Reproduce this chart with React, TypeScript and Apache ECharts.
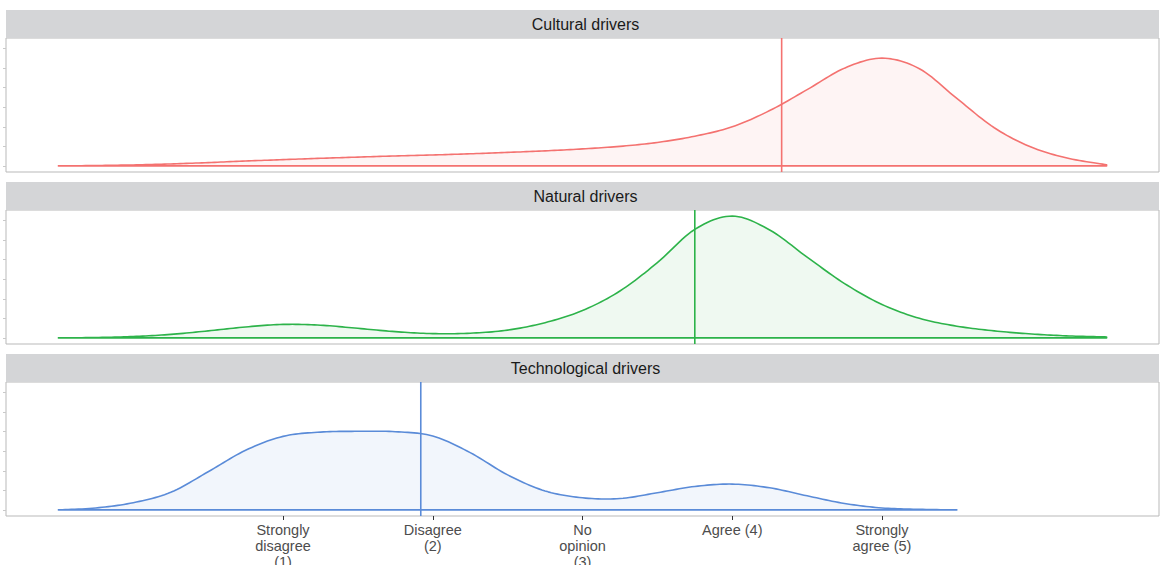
import React, { useEffect, useRef } from "react";
import * as echarts from "echarts";

const PANEL_TITLES = ["Cultural drivers", "Natural drivers", "Technological drivers"];

const X_FULL = [
  -0.5, -0.25, 0, 0.25, 0.5, 0.75, 1, 1.25, 1.5, 1.75, 2, 2.25, 2.5, 2.75, 3,
  3.25, 3.5, 3.75, 4, 4.25, 4.5, 4.75, 5, 5.25, 5.5, 5.75, 6, 6.25, 6.5,
];
const X_TECH = [
  -0.5, -0.25, 0, 0.25, 0.5, 0.75, 1, 1.25, 1.5, 1.75, 2, 2.25, 2.5, 2.75, 3,
  3.25, 3.5, 3.75, 4, 4.25, 4.5, 4.75, 5, 5.25, 5.5,
];

const CULTURAL = [
  0.0, 0.002, 0.005, 0.01, 0.017, 0.025, 0.032, 0.039, 0.045, 0.051, 0.056,
  0.062, 0.069, 0.077, 0.087, 0.1, 0.12, 0.152, 0.2, 0.283, 0.39, 0.5,
  0.551, 0.497, 0.345, 0.195, 0.095, 0.038, 0.006,
];
const NATURAL = [
  0.0, 0.002, 0.007, 0.018, 0.036, 0.056, 0.069, 0.065, 0.049, 0.032, 0.022,
  0.024, 0.04, 0.078, 0.14, 0.24, 0.385, 0.555, 0.623, 0.552, 0.413, 0.278,
  0.171, 0.1, 0.06, 0.036, 0.02, 0.01, 0.005,
];
const TECHNOLOGICAL = [
  0.0, 0.01, 0.037, 0.09, 0.195, 0.305, 0.376, 0.398, 0.402, 0.4, 0.378,
  0.293, 0.179, 0.097, 0.062, 0.058, 0.088, 0.12, 0.132, 0.113, 0.072, 0.033,
  0.01, 0.003, 0.0,
];

const MEANS = [4.33, 3.75, 1.92];
const COLORS = ["#F47270", "#2DB34A", "#5A8BD8"];
const FILLS = [
  "rgba(244,114,112,0.08)",
  "rgba(45,179,74,0.08)",
  "rgba(90,139,216,0.08)",
];

const TICK_VALUES = [1, 2, 3, 4, 5];
const TICK_LABELS = [
  "Strongly\ndisagree\n(1)",
  "Disagree\n(2)",
  "No\nopinion\n(3)",
  "Agree (4)",
  "Strongly\nagree (5)",
];
const Y_TICKS = [0, 0.1, 0.2, 0.3, 0.4, 0.5, 0.6];

const X_MIN = -0.85;
const X_MAX = 6.85;

// Catmull-Rom spline through pixel points (rendering only)
function smoothThrough(pts: number[][], steps: number, floorY: number): number[][] {
  const out: number[][] = [];
  const n = pts.length;
  for (let i = 0; i < n - 1; i++) {
    const p0 = pts[Math.max(0, i - 1)];
    const p1 = pts[i];
    const p2 = pts[i + 1];
    const p3 = pts[Math.min(n - 1, i + 2)];
    for (let s = 0; s < steps; s++) {
      const t = s / steps;
      const t2 = t * t;
      const t3 = t2 * t;
      const x =
        0.5 *
        (2 * p1[0] +
          (-p0[0] + p2[0]) * t +
          (2 * p0[0] - 5 * p1[0] + 4 * p2[0] - p3[0]) * t2 +
          (-p0[0] + 3 * p1[0] - 3 * p2[0] + p3[0]) * t3);
      let y =
        0.5 *
        (2 * p1[1] +
          (-p0[1] + p2[1]) * t +
          (2 * p0[1] - 5 * p1[1] + 4 * p2[1] - p3[1]) * t2 +
          (-p0[1] + 3 * p1[1] - 3 * p2[1] + p3[1]) * t3);
      if (y > floorY) y = floorY;
      out.push([x, y]);
    }
  }
  out.push(pts[n - 1]);
  return out;
}

export default function App() {
  const ref = useRef<HTMLDivElement | null>(null);

  useEffect(() => {
    if (!ref.current) return;
    const chart = echarts.init(ref.current, undefined, { renderer: "svg" });

    const xsList = [X_FULL, X_FULL, X_TECH];
    const ysList = [CULTURAL, NATURAL, TECHNOLOGICAL];
    const yPeak = Math.max(...CULTURAL, ...NATURAL, ...TECHNOLOGICAL);
    const yMin = -0.05 * yPeak;
    const yMax = yPeak * 1.05;

    const stripTops = [10, 182, 354];
    const gridTops = [38, 210, 382];
    const left = 6;
    const width = 1153;
    const plotH = 134;
    const font = "'Liberation Sans', Arial, Helvetica, sans-serif";

    const grids = gridTops.map((t) => ({
      left,
      top: t,
      width,
      height: plotH,
      show: true,
      backgroundColor: "#ffffff",
      borderColor: "#B9B9B9",
      borderWidth: 1,
      containLabel: false,
      outerBoundsMode: "none",
    }));

    const xAxes = gridTops.map((_, i) => ({
      type: "value",
      gridIndex: i,
      min: X_MIN,
      max: X_MAX,
      position: "bottom",
      axisLine: { show: false, onZero: false },
      splitLine: { show: false },
      axisTick:
        i === 2
          ? {
              show: true,
              customValues: TICK_VALUES,
              length: 4,
              lineStyle: { color: "#333333", width: 1 },
            }
          : { show: false },
      axisLabel:
        i === 2
          ? {
              show: true,
              customValues: TICK_VALUES,
              formatter: (v: number) => {
                const k = TICK_VALUES.indexOf(Math.round(v));
                return k >= 0 ? TICK_LABELS[k] : "";
              },
              color: "#4D4D4D",
              fontSize: 14.5,
              lineHeight: 16,
              fontFamily: font,
              margin: 6,
              verticalAlign: "top",
            }
          : { show: false },
    }));

    const yAxes = gridTops.map((_, i) => ({
      type: "value",
      gridIndex: i,
      min: yMin,
      max: yMax,
      position: "left",
      axisLine: { show: false, onZero: false },
      splitLine: { show: false },
      axisLabel: { show: false },
      axisTick: {
        show: true,
        customValues: Y_TICKS,
        length: 3,
        lineStyle: { color: "#C9C9C9", width: 1 },
      },
    }));

    const series: any[] = [];
    ysList.forEach((ys, i) => {
      const xs = xsList[i];
      const data = xs.map((x, k) => [x, ys[k]]);
      series.push({
        type: "custom",
        coordinateSystem: "cartesian2d",
        xAxisIndex: i,
        yAxisIndex: i,
        data,
        encode: { x: 0, y: 1 },
        silent: true,
        z: 3,
        renderItem: (params: any, api: any) => {
          if (params.dataIndex !== 0) return null;
          const px = data.map((d) => api.coord([d[0], d[1]]));
          const base0 = api.coord([xs[0], 0]);
          const base1 = api.coord([xs[xs.length - 1], 0]);
          const curve = smoothThrough(px, 12, base0[1]);
          const poly = curve.concat([base1, base0]);
          return {
            type: "polygon",
            shape: { points: poly },
            style: {
              fill: FILLS[i],
              stroke: COLORS[i],
              lineWidth: 1.6,
              lineJoin: "round",
            },
          };
        },
      });
      series.push({
        type: "line",
        xAxisIndex: i,
        yAxisIndex: i,
        data: [
          [MEANS[i], yMin],
          [MEANS[i], yMax],
        ],
        showSymbol: false,
        symbol: "none",
        lineStyle: { color: COLORS[i], width: 1.6 },
        silent: true,
        z: 4,
      });
    });

    const graphics: any[] = [];
    stripTops.forEach((t, i) => {
      graphics.push({
        type: "rect",
        shape: { x: left, y: t, width: width, height: 28 },
        style: { fill: "#D4D5D7" },
        silent: true,
      });
      graphics.push({
        type: "text",
        x: left + width / 2 + 3,
        y: t + 14.5,
        style: {
          text: PANEL_TITLES[i],
          fill: "#1A1A1A",
          font: `16px ${font}`,
          textAlign: "center",
          textVerticalAlign: "middle",
        },
        silent: true,
      });
    });

    chart.setOption({
      animation: false,
      backgroundColor: "#ffffff",
      grid: grids,
      xAxis: xAxes,
      yAxis: yAxes,
      series,
      graphic: graphics,
    });

    return () => {
      chart.dispose();
    };
  }, []);

  return (
    <div
      ref={ref}
      style={{ position: "absolute", left: 0, top: 0, width: 1160, height: 565 }}
    />
  );
}
